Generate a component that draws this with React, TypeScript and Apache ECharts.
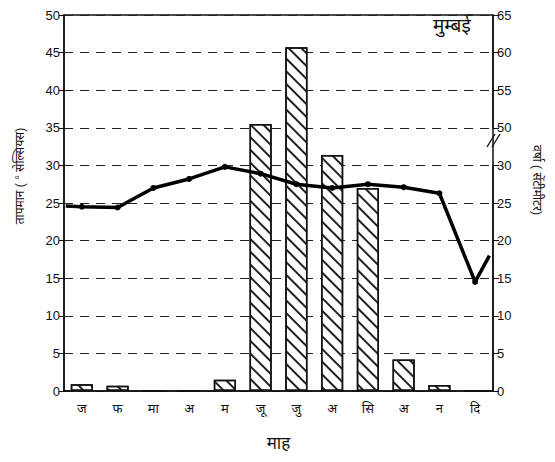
import React, { useEffect, useRef } from "react";
import * as echarts from "echarts";

// Months (Hindi abbreviations)
const months = ["ज", "फ", "मा", "अ", "म", "जू", "जु", "अ", "सि", "अ", "न", "दि"];
// Mean monthly temperature (°C)
const temperature = [24.5, 24.4, 27.0, 28.2, 29.8, 28.9, 27.5, 27.0, 27.5, 27.1, 26.3, 14.5];
// Line continues slightly beyond first / last month: [month position, °C]
const tempLineStart = [-0.45, 24.6];
const tempLineEnd = [11.4, 18.0];
// Monthly rainfall (cm)
const rainfall = [0.9, 0.7, 0, 0, 1.5, 50.5, 60.7, 35.5, 27.0, 4.2, 0.8, 0];
// Axis ranges
const tempAxis = { min: 0, max: 50, interval: 5 };
const rainAxis = { min: 0, max: 65, interval: 5 };
const rainBreak = { start: 30, end: 50 };

const cityName = "मुम्बई";
const tempTitle = "तापमान ( ° सेल्सियस)";
const rainTitle = "वर्षा ( सेंटीमीटर)";
const xTitle = "माह";

const FONT = "'Liberation Sans', 'Noto Sans', 'DejaVu Sans', sans-serif";
const INK = "#111";

export default function App() {
  const ref = useRef<HTMLDivElement>(null);
  useEffect(() => {
    document.body.style.margin = "0";
    if (!ref.current) return;
    const chart = echarts.init(ref.current, null, { renderer: "svg" });
    const lineData: any[] = [
      { value: tempLineStart, symbol: "none" },
      ...temperature.map((t, i) => [i, t]),
      { value: tempLineEnd, symbol: "none" },
    ];
    chart.setOption({
      animation: false,
      backgroundColor: "#fff",
      aria: { enabled: true, decal: { show: true } },
      textStyle: { fontFamily: FONT, color: INK },
      grid: {
        left: 64,
        right: 62,
        top: 15,
        bottom: 71,
        show: true,
        borderColor: INK,
        borderWidth: 1.5,
        outerBoundsMode: "none",
      },
      xAxis: [
        {
          type: "category",
          data: months,
          boundaryGap: true,
          axisLine: { lineStyle: { color: INK, width: 1.5 } },
          axisTick: { show: false },
          axisLabel: { color: INK, fontSize: 13, margin: 11, fontFamily: FONT },
          name: xTitle,
          nameLocation: "middle",
          nameGap: 44,
          nameTextStyle: { fontSize: 17, color: INK, fontFamily: FONT },
        },
        { type: "value", min: -0.5, max: 11.5, show: false },
      ],
      yAxis: [
        {
          type: "value",
          position: "left",
          ...tempAxis,
          axisLine: { show: true, onZero: false, lineStyle: { color: INK, width: 1.5 } },
          axisTick: { show: true, length: 5, lineStyle: { color: INK } },
          axisLabel: { color: INK, fontSize: 13, margin: 4, fontFamily: FONT },
          splitLine: { show: true, lineStyle: { color: "#222", type: [9, 7], width: 1 } },
          name: tempTitle,
          nameLocation: "middle",
          nameGap: 38,
          nameRotate: 90,
          nameTextStyle: { fontSize: 12, color: INK, fontFamily: FONT, padding: [0, 0, 0, 54] },
        },
        {
          type: "value",
          position: "right",
          ...rainAxis,
          breaks: [{ start: rainBreak.start, end: rainBreak.end, gap: "10%" }],
          breakArea: { show: false },
          axisLine: { show: true, onZero: false, lineStyle: { color: INK, width: 1.5 } },
          axisTick: { show: true, length: 6, lineStyle: { color: INK } },
          axisLabel: { color: INK, fontSize: 13, margin: 4, fontFamily: FONT },
          splitLine: { show: false },
          name: rainTitle,
          nameLocation: "middle",
          nameGap: 38,
          nameRotate: -90,
          nameTextStyle: { fontSize: 12, color: INK, fontFamily: FONT, padding: [0, 46, 0, 0] },
        },
      ],
      series: [
        {
          type: "bar",
          xAxisIndex: 0,
          yAxisIndex: 1,
          data: rainfall,
          barWidth: "62%",
          z: 2,
          itemStyle: {
            color: "#fff",
            borderColor: INK,
            borderWidth: 1.5,
            decal: {
              symbol: "rect",
              symbolSize: 1,
              dashArrayX: [1, 0],
              dashArrayY: [1.5, 7],
              rotation: Math.PI / 4,
              color: "#222",
              backgroundColor: "#fff",
            },
          },
        },
        {
          type: "line",
          xAxisIndex: 1,
          yAxisIndex: 0,
          data: lineData,
          z: 5,
          symbol: "circle",
          symbolSize: 6,
          lineStyle: { color: "#000", width: 3.5 },
          itemStyle: { color: "#000", decal: "none" },
        },
      ],
      graphic: [
        {
          type: "text",
          left: 433,
          top: 16,
          style: { text: cityName, fontSize: 19, fill: INK, fontFamily: FONT },
        },
        { type: "line", shape: { x1: 487, y1: 147, x2: 495, y2: 134 }, style: { stroke: INK, lineWidth: 1.3 } },
        { type: "line", shape: { x1: 492, y1: 147, x2: 500, y2: 134 }, style: { stroke: INK, lineWidth: 1.3 } },
      ],
    });
    return () => chart.dispose();
  }, []);
  return <div ref={ref} style={{ width: 555, height: 462 }} />;
}
